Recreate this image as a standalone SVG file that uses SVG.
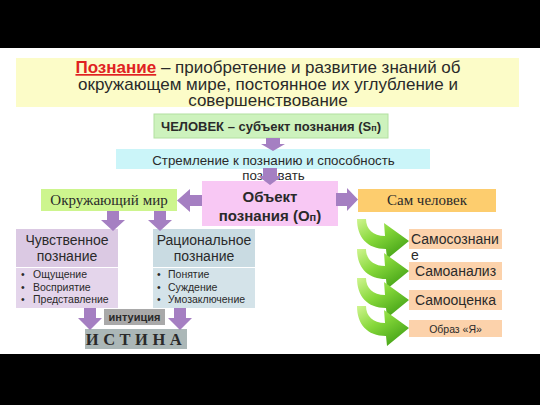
<svg xmlns="http://www.w3.org/2000/svg" width="540" height="405" viewBox="0 0 540 405">
<defs>
<style>
.sans{font-family:"Liberation Sans",Arial,sans-serif;fill:#2a2a2a}
.serif{font-family:"Liberation Serif","Times New Roman",serif;fill:#2a2a2a}
.arr{fill:#a57fc2}
.garr{fill:url(#g)}
.peach{fill:#fcd2ab}
</style>
<linearGradient id="g" x1="0" y1="0" x2="0.8" y2="1">
<stop offset="0" stop-color="#d0f590"/>
<stop offset="0.45" stop-color="#86d83a"/>
<stop offset="1" stop-color="#3f9e14"/>
</linearGradient>
<path id="ga" d="M0,0 L9,0 C9,10 16,17 28,17 L27,4 L52,22 L30,40 L29,30 C10,30 0,18 0,0 Z"/>
</defs>
<rect x="0" y="0" width="540" height="405" fill="#ffffff"/>
<rect x="0" y="0" width="540" height="48" fill="#000000"/>
<rect x="0" y="354" width="540" height="51" fill="#000000"/>

<g id="title">
<rect x="16" y="58" width="503" height="49" fill="#fcfcc8"/>
<text class="sans" font-size="17" text-anchor="middle"><tspan x="268" y="73"><tspan fill="#e02222" font-weight="bold" text-decoration="underline">Познание</tspan> – приобретение и развитие знаний об</tspan><tspan x="268" y="89.5">окружающем мире, постоянное их углубление и</tspan><tspan x="268" y="106">совершенствование</tspan></text>
</g>

<g id="chelovek">
<rect x="154" y="114" width="234" height="24" fill="#cdf2bd" stroke="#b2e0a0" stroke-width="1"/>
<text class="sans" x="271" y="131" font-size="13" font-weight="bold" text-anchor="middle">ЧЕЛОВЕК – субъект познания (S<tspan font-size="9">п</tspan>)</text>
</g>

<g id="stremlenie">
<rect x="116" y="149" width="314" height="20" fill="#cbf5f9"/>
<text class="sans" font-size="13.3" text-anchor="middle"><tspan x="273.5" y="164.5">Стремление к познанию и способность</tspan><tspan x="273.5" y="180">познавать</tspan></text>
</g>

<g id="object">
<rect x="202" y="181" width="136" height="45" fill="#f8c8f4"/>
<text class="sans" font-size="15" font-weight="bold" text-anchor="middle"><tspan x="270" y="202">Объект</tspan><tspan x="270" y="221">познания (О<tspan font-size="11">п</tspan>)</tspan></text>
</g>

<g id="okruzh">
<rect x="41" y="189" width="136" height="22" fill="#cdf58e"/>
<text class="serif" x="109" y="205" font-size="15" text-anchor="middle">Окружающий мир</text>
</g>

<g id="samchel">
<rect x="358" y="189" width="138" height="23" fill="#fdcd6e"/>
<text class="serif" x="427" y="205" font-size="15" text-anchor="middle">Сам человек</text>
</g>

<g id="chuvstv">
<rect x="16" y="229" width="102" height="38" fill="#dbc9e3"/>
<text class="sans" font-size="14" text-anchor="middle" fill="#333"><tspan x="67" y="245">Чувственное</tspan><tspan x="67" y="261">познание</tspan></text>
<rect x="16" y="268" width="102" height="40" fill="#e4d5eb"/>
<text class="sans" font-size="10.5"><tspan x="21" y="278">•</tspan><tspan x="33" y="278">Ощущение</tspan><tspan x="21" y="290.5">•</tspan><tspan x="33" y="290.5">Восприятие</tspan><tspan x="21" y="303">•</tspan><tspan x="33" y="303">Представление</tspan></text>
</g>

<g id="racion">
<rect x="153" y="229" width="102" height="38" fill="#c9dbe2"/>
<text class="sans" font-size="14" text-anchor="middle" fill="#333"><tspan x="204" y="245">Рациональное</tspan><tspan x="204" y="261">познание</tspan></text>
<rect x="153" y="268" width="102" height="40" fill="#d4e3e9"/>
<text class="sans" font-size="10.5"><tspan x="157" y="278">•</tspan><tspan x="168" y="278">Понятие</tspan><tspan x="157" y="290.5">•</tspan><tspan x="168" y="290.5">Суждение</tspan><tspan x="157" y="303">•</tspan><tspan x="168" y="303">Умозаключение</tspan></text>
</g>

<g id="intuicia">
<rect x="104" y="309" width="61" height="16" fill="#a9a9a9"/>
<text class="sans" x="134.5" y="321" font-size="11" font-weight="bold" text-anchor="middle" fill="#2a2a2a">интуиция</text>
</g>

<g id="istina">
<rect x="85" y="329" width="102" height="20" fill="#abb7b7"/>
<text class="serif" x="136" y="345" font-size="16.5" font-weight="bold" text-anchor="middle" letter-spacing="4.5" fill="#1e1e1e">ИСТИНА</text>
</g>

<g id="samosoznanie">
<rect x="409" y="229" width="93" height="20" class="peach"/>
<text class="sans" font-size="14"><tspan x="411" y="244">Самосознани</tspan><tspan x="411" y="260">е</tspan></text>
</g>
<g id="samoanaliz">
<rect x="409" y="262" width="93" height="18" class="peach"/>
<text class="sans" x="455.5" y="276" font-size="14" text-anchor="middle">Самоанализ</text>
</g>
<g id="samoocenka">
<rect x="409" y="290" width="93" height="20" class="peach"/>
<text class="sans" x="455.5" y="305" font-size="14" text-anchor="middle">Самооценка</text>
</g>
<g id="obraz">
<rect x="409" y="320" width="93" height="17" class="peach"/>
<text class="sans" x="455.5" y="332.5" font-size="10.5" text-anchor="middle">Образ «Я»</text>
</g>

<g id="connectors">
<path class="arr" d="M266,138 H280 V144 H285 L273,151 L261,144 H266 Z"/>
<path class="arr" d="M263,168 H277 V176 H282 L270,185 L258,176 H263 Z"/>
<path class="arr" d="M202,195 V206 H190 V212 L177,200.5 L190,189 V195 Z"/>
<path class="arr" d="M336,193 H347 V188 L358,199.5 L347,211 V206 H336 Z"/>
<path class="arr" d="M107,211 H119 V220 H125 L113,231 L101,220 H107 Z"/>
<path class="arr" d="M154,211 H166 V220 H172 L160,231 L148,220 H154 Z"/>
<path class="arr" d="M84,308 H96 V318 H102 L90,330 L78,318 H84 Z"/>
<path class="arr" d="M174,308 H186 V318 H192 L180,330 L168,318 H174 Z"/>
<use href="#ga" class="garr" x="357" y="219"/>
<use href="#ga" class="garr" x="357" y="249"/>
<use href="#ga" class="garr" x="357" y="278"/>
<use href="#ga" class="garr" x="357" y="306"/>
</g>
</svg>
